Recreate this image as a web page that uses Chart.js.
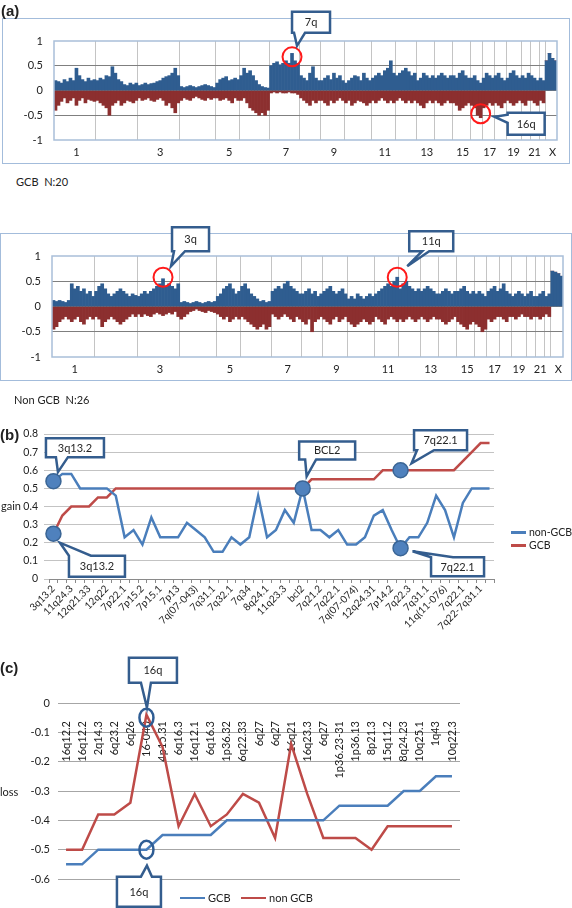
<!DOCTYPE html>
<html>
<head>
<meta charset="utf-8">
<title>Copy number gain / loss profiles</title>
<script src="https://cdn.jsdelivr.net/npm/chart.js"></script>
<style>
  html, body { margin: 0; padding: 0; background: #fff; }
  body { position: relative; width: 572px; height: 908px; overflow: hidden;
         font-family: Lato, "Liberation Sans", sans-serif; color: #222; }
  canvas { position: absolute; }
  .frame { position: absolute; border: 1.5px solid #a3bcdb; box-sizing: border-box; }
  .txt { position: absolute; font-size: 11px; line-height: 12px; white-space: nowrap; }
  .tag { position: absolute; font: bold 15px "Liberation Sans", Arial, sans-serif; }
  .key { position: absolute; font-size: 11px; line-height: 12px; white-space: nowrap; }
  .key i { display: inline-block; width: 18px; height: 2.5px; vertical-align: middle; margin: -2px 3px 0 0; }
</style>
</head>
<body>
<div class="frame" style="left:2px;top:18px;width:568px;height:146px"></div>
<div class="frame" style="left:0;top:233px;width:572px;height:148px"></div>
<canvas id="a1" width="572" height="164" style="left:0;top:0"></canvas>
<canvas id="a2" width="572" height="181" style="left:0;top:200px"></canvas>
<canvas id="b" width="572" height="240" style="left:0;top:395px"></canvas>
<canvas id="c" width="572" height="268" style="left:0;top:640px"></canvas>

<div class="tag" style="left:1px;top:2px">(a)</div>
<div class="txt" style="left:16px;top:176px">GCB&nbsp; N:20</div>
<div class="txt" style="left:14px;top:394px">Non GCB&nbsp; N:26</div>
<div class="tag" style="left:0;top:426px">(b)</div>
<div class="txt" style="left:1px;top:500px">gain</div>
<div class="key" style="left:511px;top:526px;font-size:10.5px"><i style="background:#4a7ebb;width:15px"></i>non-GCB</div>
<div class="key" style="left:511px;top:539px;font-size:10.5px"><i style="background:#be4b48;width:15px"></i>GCB</div>
<div class="tag" style="left:0;top:659px">(c)</div>
<div class="txt" style="left:0;top:786px">loss</div>
<div class="key" style="left:180px;top:892px"><i style="background:#4a7ebb;width:25px"></i>GCB</div>
<div class="key" style="left:241px;top:892px"><i style="background:#be4b48;width:25px"></i>non GCB</div>

<script>
// ---------- (a) genome-wide frequency profiles ----------
const chromNames = ['1','2','3','4','5','6','7','8','9','10','11','12','13','14','15','16','17','18','19','20','21','22','X'];
const chromBins  = [14,14,14,12,8,10,10,7,8,9,8,7,6,6,6,4,4,4,5,3,3,2,4];

// GCB (N:20) gain frequency
const gcbGain = [
  0.20,0.18,0.15,0.22,0.18,0.25,0.20,0.45,0.30,0.22,0.18,0.25,0.20,0.22, // 1
  0.20,0.25,0.22,0.30,0.28,0.48,0.35,0.22,0.18,0.12,0.10,0.15,0.12,0.15, // 2
  0.10,0.12,0.15,0.12,0.14,0.15,0.18,0.20,0.25,0.28,0.30,0.35,0.45,0.30, // 3
  0.08,0.06,0.08,0.10,0.08,0.06,0.08,0.10,0.12,0.10,0.08,0.06,           // 4
  0.15,0.22,0.25,0.28,0.20,0.22,0.25,0.22,                               // 5
  0.30,0.45,0.35,0.40,0.30,0.20,0.12,0.08,0.06,0.05,                     // 6
  0.50,0.55,0.58,0.52,0.55,0.60,0.55,0.75,0.60,0.55,                     // 7
  0.30,0.25,0.20,0.35,0.48,0.25,0.20,                                    // 8
  0.20,0.25,0.30,0.22,0.35,0.25,0.30,0.20,                               // 9
  0.15,0.20,0.25,0.30,0.28,0.20,0.35,0.25,0.20,                          // 10
  0.25,0.30,0.35,0.30,0.40,0.45,0.60,0.35,                               // 11
  0.30,0.35,0.40,0.45,0.38,0.30,0.35,                                    // 12
  0.20,0.25,0.35,0.30,0.25,0.30,                                         // 13
  0.25,0.30,0.35,0.30,0.25,0.30,                                         // 14
  0.30,0.25,0.35,0.40,0.30,0.25,                                         // 15
  0.25,0.30,0.20,0.15,                                                   // 16
  0.25,0.35,0.30,0.25,                                                   // 17
  0.30,0.35,0.25,0.20,                                                   // 18
  0.25,0.35,0.40,0.30,0.25,                                              // 19
  0.30,0.25,0.35,                                                        // 20
  0.30,0.25,0.20,                                                        // 21
  0.25,0.20,                                                             // 22
  0.60,0.75,0.65,0.60                                                    // X
];
// GCB (N:20) loss frequency
const gcbLoss = [
  -0.40,-0.30,-0.22,-0.15,-0.25,-0.20,-0.15,-0.30,-0.20,-0.15,-0.25,-0.18,-0.20,-0.22,
  -0.20,-0.25,-0.30,-0.35,-0.50,-0.30,-0.25,-0.20,-0.30,-0.25,-0.20,-0.22,-0.25,-0.20,
  -0.15,-0.20,-0.18,-0.15,-0.20,-0.22,-0.18,-0.15,-0.20,-0.30,-0.25,-0.35,-0.45,-0.25,
  -0.20,-0.15,-0.18,-0.20,-0.15,-0.12,-0.15,-0.18,-0.20,-0.15,-0.18,-0.15,
  -0.15,-0.20,-0.18,-0.15,-0.20,-0.25,-0.15,-0.20,
  -0.20,-0.15,-0.25,-0.35,-0.40,-0.45,-0.50,-0.45,-0.50,-0.40,
  -0.05,-0.03,-0.05,-0.03,-0.05,-0.05,-0.03,-0.05,-0.05,-0.08,
  -0.15,-0.20,-0.25,-0.30,-0.20,-0.25,-0.20,
  -0.20,-0.25,-0.30,-0.20,-0.25,-0.20,-0.15,-0.20,
  -0.25,-0.20,-0.30,-0.25,-0.20,-0.22,-0.25,-0.30,-0.25,
  -0.20,-0.25,-0.20,-0.15,-0.20,-0.25,-0.20,-0.25,
  -0.20,-0.15,-0.20,-0.25,-0.20,-0.25,-0.20,
  -0.25,-0.30,-0.35,-0.25,-0.20,-0.25,
  -0.20,-0.25,-0.30,-0.25,-0.20,-0.25,
  -0.25,-0.30,-0.40,-0.35,-0.30,-0.25,
  -0.30,-0.35,-0.50,-0.55,
  -0.35,-0.30,-0.25,-0.30,
  -0.25,-0.30,-0.35,-0.25,
  -0.20,-0.25,-0.30,-0.25,-0.20,
  -0.25,-0.30,-0.20,
  -0.20,-0.25,-0.30,
  -0.20,-0.25,
  0,0,0,0
];
// Non GCB (N:26) gain frequency
const nonGain = [
  0.12,0.10,0.12,0.10,0.08,0.12,0.45,0.35,0.40,0.30,0.35,0.25,0.30,0.20,
  0.30,0.40,0.45,0.35,0.25,0.20,0.25,0.30,0.35,0.30,0.25,0.20,0.25,0.22,
  0.20,0.25,0.30,0.25,0.30,0.35,0.40,0.45,0.55,0.40,0.45,0.40,0.35,0.45,
  0.08,0.10,0.08,0.06,0.08,0.10,0.08,0.06,0.08,0.10,0.08,0.10,
  0.20,0.25,0.35,0.40,0.45,0.35,0.25,0.30,
  0.40,0.45,0.35,0.25,0.20,0.15,0.10,0.12,0.08,0.10,
  0.30,0.35,0.40,0.35,0.45,0.50,0.40,0.35,0.30,0.25,
  0.25,0.30,0.35,0.25,0.30,0.20,0.25,
  0.30,0.35,0.40,0.30,0.25,0.30,0.35,0.25,
  0.15,0.20,0.15,0.25,0.20,0.15,0.20,0.25,0.20,
  0.25,0.30,0.35,0.40,0.45,0.40,0.50,0.58,
  0.35,0.45,0.50,0.40,0.35,0.30,0.35,
  0.30,0.35,0.40,0.35,0.30,0.25,
  0.25,0.30,0.35,0.30,0.25,0.30,
  0.30,0.35,0.40,0.30,0.25,0.30,
  0.25,0.30,0.25,0.20,
  0.30,0.35,0.40,0.30,
  0.35,0.45,0.30,0.25,
  0.20,0.25,0.30,0.25,0.20,
  0.25,0.30,0.20,
  0.20,0.25,0.30,
  0.20,0.25,
  0.70,0.68,0.65,0.60
];
// Non GCB (N:26) loss frequency
const nonLoss = [
  -0.45,-0.40,-0.30,-0.25,-0.20,-0.25,-0.30,-0.25,-0.20,-0.30,-0.35,-0.25,-0.20,-0.25,
  -0.20,-0.25,-0.40,-0.30,-0.25,-0.20,-0.25,-0.30,-0.35,-0.30,-0.25,-0.20,-0.15,-0.20,
  -0.15,-0.20,-0.15,-0.18,-0.20,-0.15,-0.12,-0.15,-0.18,-0.15,-0.12,-0.15,-0.10,-0.20,
  -0.25,-0.20,-0.15,-0.10,-0.08,-0.05,-0.08,-0.10,-0.12,-0.08,-0.10,-0.12,
  -0.15,-0.20,-0.25,-0.20,-0.30,-0.25,-0.20,-0.25,
  -0.20,-0.25,-0.30,-0.35,-0.40,-0.45,-0.40,-0.35,-0.45,-0.40,
  -0.15,-0.20,-0.25,-0.20,-0.15,-0.20,-0.25,-0.30,-0.20,-0.25,
  -0.30,-0.35,-0.25,-0.50,-0.30,-0.25,-0.20,
  -0.25,-0.30,-0.35,-0.25,-0.20,-0.30,-0.25,-0.20,
  -0.30,-0.35,-0.40,-0.35,-0.30,-0.25,-0.30,-0.35,-0.30,
  -0.20,-0.25,-0.30,-0.35,-0.25,-0.20,-0.25,-0.30,
  -0.25,-0.30,-0.25,-0.20,-0.25,-0.30,-0.25,
  -0.20,-0.25,-0.30,-0.25,-0.20,-0.25,
  -0.25,-0.30,-0.35,-0.30,-0.25,-0.20,
  -0.30,-0.35,-0.40,-0.45,-0.35,-0.30,
  -0.35,-0.40,-0.50,-0.45,
  -0.25,-0.30,-0.25,-0.20,
  -0.20,-0.25,-0.30,-0.20,
  -0.20,-0.25,-0.20,-0.15,-0.20,
  -0.20,-0.25,-0.20,
  -0.20,-0.25,-0.20,
  -0.15,-0.20,
  0,0,0,0
];

// ---------- (b) gain by region ----------
const gainLabels = [
  '3q13.2','','11q24.3','','12q21.33','','12q22','','7p22.1','','7p15.2','','7p15.1','',
  '7p13','','7q(07-043)','','7q31.1','','7q32.1','','7q34','','8q24.1','','11q23.3','',
  'bcl2','','7q21.2','','7q22.1','','7q(07-074)','','12q24.31','','7p14.2','','7q22.3','',
  '7q31.1','','11q(11-076)','','7q22.1','','7q22-7q31.1',''
];
const gainNonGCB = [
  0.54,0.58,0.58,0.50,0.50,0.50,0.50,0.46,0.23,0.27,0.19,0.34,0.23,0.23,0.23,0.31,0.27,
  0.23,0.15,0.15,0.23,0.19,0.23,0.46,0.23,0.27,0.38,0.31,0.50,0.27,0.27,0.23,0.27,0.19,
  0.19,0.23,0.35,0.38,0.27,0.17,0.23,0.23,0.31,0.46,0.38,0.23,0.42,0.50,0.50,0.50
];
const gainGCB = [
  0.25,0.35,0.40,0.40,0.40,0.45,0.45,0.50,0.50,0.50,0.50,0.50,0.50,0.50,0.50,0.50,0.50,
  0.50,0.50,0.50,0.50,0.50,0.50,0.50,0.50,0.50,0.50,0.50,0.50,0.55,0.55,0.55,0.55,0.55,
  0.55,0.55,0.55,0.60,0.60,0.60,0.60,0.60,0.60,0.60,0.60,0.60,0.65,0.70,0.75,0.75
];

// ---------- (c) loss by region ----------
const lossLabels = [
  '16q12.2','16q12.2','2q14.3','6q23.2','6q26','16-040','4p15.31','6q16.3','16q12.1','6q16.3',
  '1p36.32','6q22.33','6q27','6q27','16q21','16q23.3','6q27','1p36.23-31','1p36.13','8p21.3',
  '15q11.2','8q24.23','10q25.1','1q43','10q22.3'
];
const lossGCB = [
  -0.55,-0.55,-0.50,-0.50,-0.50,-0.50,-0.45,-0.45,-0.45,-0.45,-0.40,-0.40,-0.40,
  -0.40,-0.40,-0.40,-0.40,-0.35,-0.35,-0.35,-0.35,-0.30,-0.30,-0.25,-0.25
];
const lossNonGCB = [
  -0.50,-0.50,-0.38,-0.38,-0.34,-0.04,-0.15,-0.42,-0.31,-0.42,-0.38,-0.31,-0.34,
  -0.46,-0.14,-0.31,-0.46,-0.46,-0.46,-0.50,-0.42,-0.42,-0.42,-0.42,-0.42
];

// ---------- helpers ----------
Chart.defaults.font.family = 'Lato, "Liberation Sans", sans-serif';
Chart.defaults.color = '#333';
Chart.defaults.animation = false;
Chart.defaults.responsive = false;
Chart.defaults.plugins.legend.display = false;
Chart.defaults.plugins.tooltip.enabled = false;

const CLR_NOTE = '#345d8e';
const notesById = {};   // circles + callouts per canvas, filled below

function calloutPath(ctx, b, w) {
  const r = b.x + b.w, btm = b.y + b.h;
  ctx.beginPath();
  ctx.moveTo(b.x, b.y);
  if (w.side === 'top') { ctx.lineTo(b.x + w.a, b.y); ctx.lineTo(w.tx, w.ty); ctx.lineTo(b.x + w.b, b.y); }
  ctx.lineTo(r, b.y);
  ctx.lineTo(r, btm);
  if (w.side === 'bottom') { ctx.lineTo(b.x + w.b, btm); ctx.lineTo(w.tx, w.ty); ctx.lineTo(b.x + w.a, btm); }
  ctx.lineTo(b.x, btm);
  if (w.side === 'left') { ctx.lineTo(b.x, b.y + w.b); ctx.lineTo(w.tx, w.ty); ctx.lineTo(b.x, b.y + w.a); }
  ctx.closePath();
}

// circles / callouts hung on data points
const notesPlugin = {
  id: 'notes',
  afterDatasetsDraw(chart) {
    const items = notesById[chart.canvas.id] || [];
    const ctx = chart.ctx;
    items.forEach(n => {
      const el = chart.getDatasetMeta(n.ds).data[n.i];
      const v = n.v !== undefined ? n.v : chart.data.datasets[n.ds].data[n.i];
      const px = el.x, py = chart.scales.y.getPixelForValue(v);
      ctx.save();
      ctx.beginPath();
      ctx.ellipse(px, py, n.rx, n.ry || n.rx, 0, 0, Math.PI * 2);
      if (n.fill) { ctx.fillStyle = n.fill; ctx.fill(); }
      ctx.lineWidth = n.lw;
      ctx.strokeStyle = n.stroke;
      ctx.stroke();

      const box = { x: px + n.box[0], y: py + n.box[1], w: n.box[2], h: n.box[3] };
      calloutPath(ctx, box, { side: n.side, a: n.base[0], b: n.base[1], tx: px + n.tip[0], ty: py + n.tip[1] });
      ctx.fillStyle = '#fff';
      ctx.fill();
      ctx.lineWidth = 2.5;
      ctx.lineJoin = 'miter';
      ctx.strokeStyle = CLR_NOTE;
      ctx.stroke();
      ctx.fillStyle = '#262626';
      ctx.font = '11px Lato, sans-serif';
      ctx.textAlign = 'center';
      ctx.textBaseline = 'middle';
      ctx.fillText(n.text, box.x + box.w / 2, box.y + box.h / 2 + 0.5);
      ctx.restore();
    });
  }
};

// plot-area outline (panel a)
const outlinePlugin = {
  id: 'outline',
  afterDatasetsDraw(chart) {
    const { left, top, right, bottom } = chart.chartArea;
    const ctx = chart.ctx;
    ctx.save();
    ctx.strokeStyle = '#a9bfd9';
    ctx.lineWidth = 1.5;
    ctx.strokeRect(left, top, right - left, bottom - top);
    ctx.restore();
  }
};

// ---------- (a) ----------
const binLabels = [];
const chromStart = [];
const binChrom = [];
chromBins.forEach((n, c) => {
  chromStart.push(binLabels.length);
  for (let k = 0; k < n; k++) { binLabels.push(chromNames[c]); binChrom.push(c); }
});
const boundaries = new Set(chromStart.slice(1));

function profileChart(id, gain, loss, area) {
  const canvas = document.getElementById(id);
  return new Chart(canvas, {
    type: 'bar',
    data: {
      labels: binLabels,
      datasets: [
        { data: gain, backgroundColor: '#2f5d90', barPercentage: 1, categoryPercentage: 1, borderWidth: 0 },
        { data: loss, backgroundColor: '#8c2f2f', barPercentage: 1, categoryPercentage: 1, borderWidth: 0 }
      ]
    },
    options: {
      layout: { padding: { top: area.top, right: canvas.width - area.right, left: 0, bottom: 0 } },
      scales: {
        x: {
          stacked: true,
          afterFit: s => { s.height = canvas.height - area.bottom; },
          grid: {
            offset: true, drawTicks: false,
            color: ctx => boundaries.has(ctx.index) ? '#c4c4c4' : 'rgba(0,0,0,0)'
          },
          border: { display: false },
          ticks: {
            autoSkip: false, maxRotation: 0, minRotation: 0, padding: 6,
            font: { size: 11 }, color: '#222',
            callback: (val, i) => {
              const c = binChrom[i];
              return (c % 2 === 0 && i === chromStart[c] + Math.floor(chromBins[c] / 2)) ? chromNames[c] : '';
            }
          }
        },
        y: {
          stacked: true, min: -1, max: 1,
          afterFit: s => { s.width = area.left; },
          grid: {
            drawTicks: false,
            color: ctx => Math.abs(ctx.tick.value) === 1 ? 'rgba(0,0,0,0)' : '#7f7f7f'
          },
          border: { display: false },
          ticks: { stepSize: 0.5, padding: 11, font: { size: 11 }, color: '#222', callback: v => String(v) }
        }
      }
    },
    plugins: [outlinePlugin, notesPlugin]
  });
}

const ring = { rx: 9.5, lw: 2, stroke: '#ff1a1a' };
notesById.a1 = [
  { ...ring, ds: 0, i: 79, v: 0.68, text: '7q', box: [0, -45, 38, 21], side: 'bottom', base: [2, 13], tip: [5, -11] },
  { ...ring, ds: 1, i: 142, v: -0.47, text: '16q', box: [27, -1, 37, 22], side: 'left', base: [2, 10], tip: [14, 3] }
];
notesById.a2 = [
  { ...ring, ds: 0, i: 36, v: 0.58, text: '3q', box: [9, -50, 37, 24], side: 'bottom', base: [2, 13], tip: [8, -11] },
  { ...ring, ds: 0, i: 113, v: 0.58, text: '11q', box: [12, -46, 44, 20], side: 'bottom', base: [13, 20], tip: [10, -11] }
];
profileChart('a1', gcbGain, gcbLoss, { left: 54, right: 557, top: 41, bottom: 140 });
profileChart('a2', nonGain, nonLoss, { left: 52, right: 563, top: 56, bottom: 157 });

// ---------- (b) ----------
const dot = { rx: 7.5, lw: 1.5, stroke: '#3a6595', fill: '#4f81bd' };
notesById.b = [
  { ...dot, ds: 0, i: 0, text: '3q13.2', box: [-7.5, -43, 58, 19], side: 'bottom', base: [10, 22], tip: [4.5, -9] },
  { ...dot, ds: 1, i: 0, text: '3q13.2', box: [15.5, 22, 56, 21], side: 'top', base: [0, 22], tip: [6.5, 9] },
  { ...dot, ds: 1, i: 28, text: 'BCL2', box: [-3.5, -47, 56, 18], side: 'bottom', base: [6, 17], tip: [4, -12] },
  { ...dot, ds: 1, i: 39, text: '7q22.1', box: [13.5, -40, 53, 20], side: 'bottom', base: [3, 20], tip: [11, -7] },
  { ...dot, ds: 0, i: 39, text: '7q22.1', box: [30.5, 9, 53, 19], side: 'top', base: [0, 22], tip: [12, 3] }
];
(() => {
  const canvas = document.getElementById('b');
  const area = { left: 49, right: 494, top: 39, bottom: 184 };
  new Chart(canvas, {
    type: 'line',
    data: {
      labels: gainLabels,
      datasets: [
        { label: 'non-GCB', data: gainNonGCB, borderColor: '#4a7ebb', borderWidth: 2.5, pointRadius: 0, tension: 0 },
        { label: 'GCB', data: gainGCB, borderColor: '#be4b48', borderWidth: 2.5, pointRadius: 0, tension: 0 }
      ]
    },
    options: {
      layout: { padding: { top: area.top, right: canvas.width - area.right, left: 0, bottom: 0 } },
      scales: {
        x: {
          offset: true,
          afterFit: s => { s.height = canvas.height - area.bottom; },
          grid: { offset: true, drawOnChartArea: false, tickLength: 4, color: '#8a8a8a' },
          border: { color: '#8a8a8a' },
          ticks: { autoSkip: false, maxRotation: 45, minRotation: 45, padding: 0, font: { size: 10 }, color: '#222' }
        },
        y: {
          min: 0, max: 0.8,
          afterFit: s => { s.width = area.left; },
          grid: { tickLength: 5, color: '#c3c3c3' },
          border: { display: false },
          ticks: { stepSize: 0.1, padding: 6, font: { size: 10.5 }, color: '#222' }
        }
      }
    },
    plugins: [notesPlugin]
  });
})();

// ---------- (c) ----------
const oval = { rx: 7, ry: 9, lw: 2.5, stroke: '#2f5d94' };
notesById.c = [
  { ...oval, ds: 1, i: 5, v: -0.05, text: '16q', box: [-17.5, -60, 48, 25], side: 'bottom', base: [12, 22], tip: [0.5, -10] },
  { ...oval, ds: 0, i: 5, text: '16q', box: [-29.5, 27, 44, 30], side: 'top', base: [24, 35], tip: [0.5, 16] }
];
(() => {
  const canvas = document.getElementById('c');
  const area = { left: 58, right: 460, top: 63, bottom: 239 };
  new Chart(canvas, {
    type: 'line',
    data: {
      labels: lossLabels,
      datasets: [
        { label: 'GCB', data: lossGCB, borderColor: '#4a7ebb', borderWidth: 2.5, pointRadius: 0, tension: 0 },
        { label: 'non GCB', data: lossNonGCB, borderColor: '#be4b48', borderWidth: 2.5, pointRadius: 0, tension: 0 }
      ]
    },
    options: {
      layout: { padding: { top: area.top, right: canvas.width - area.right, left: 0, bottom: canvas.height - area.bottom } },
      scales: {
        x: {
          offset: true,
          position: { y: 0 },
          afterFit: s => { s.height = 0; },
          grid: { display: false },
          border: { display: false },
          ticks: { autoSkip: false, maxRotation: 90, minRotation: 90, padding: 10, font: { size: 11 }, color: '#222' }
        },
        y: {
          min: -0.6, max: 0,
          afterFit: s => { s.width = area.left; },
          grid: { drawTicks: false, color: '#a6a6a6' },
          border: { display: false },
          ticks: { stepSize: 0.1, padding: 8, font: { size: 11 }, color: '#222' }
        }
      }
    },
    plugins: [notesPlugin]
  });
})();
</script>
</body>
</html>
